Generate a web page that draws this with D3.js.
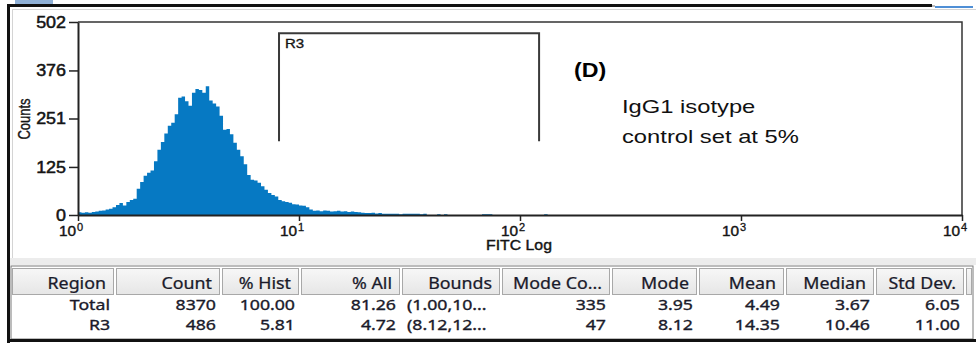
<!DOCTYPE html>
<html>
<head>
<meta charset="utf-8">
<script src="https://cdn.jsdelivr.net/npm/d3@7"></script>
<style>
  html, body { margin: 0; padding: 0; background: #fff; }
  svg { display: block; }
</style>
</head>
<body>
<svg id="chart" width="976" height="343"></svg>
<script>
// FITC log histogram, 64 channels per decade starting at 10^0
const channelsPerDecade = 64;
const channelCounts = [
  7, 6, 7, 6, 8, 9, 11, 12, 14, 16,
  20, 26, 31, 25, 34, 39, 42, 68, 86, 102,
  110, 116, 140, 170, 190, 212, 232, 240, 262, 305,
  308, 296, 284, 318, 328, 325, 318, 335, 298, 290,
  282, 258, 222, 224, 210, 188, 170, 153, 132, 104,
  92, 90, 84, 75, 66, 57, 52, 48, 39, 36,
  34, 32, 28, 27, 25, 24, 20, 14, 11, 12,
  10, 12, 11, 9, 10, 11, 9, 10, 8, 9,
  8, 7, 6, 5, 5, 6, 4, 5, 3, 3,
  3, 3, 3, 2, 3, 3, 3, 3, 3, 2,
  3, 0, 0, 0, 2, 0, 2, 0, 0, 0,
  0, 0, 0, 0, 0, 0, 0, 2, 2, 2,
  0, 0, 0, 0, 0, 0, 0, 0, 0, 0,
  0, 0, 0, 0, 0, 2
];

const xDomain = [1, 10000];
const xTickValues = [1, 10, 100, 1000, 10000];
const xTickExponents = ["0", "1", "2", "3", "4"];
const yDomain = [0, 502];
const yTickValues = [0, 125, 251, 376, 502];

// Gate R3
const gateName = "R3";
const gateBounds = [8.12, 122];

// Statistics table
const columnNames = ["Region", "Count", "% Hist", "% All", "Bounds", "Mode Co...", "Mode", "Mean", "Median", "Std Dev."];
const regionNames = ["Total", "R3"];
const regionCounts = ["8370", "486"];
const pctHist = ["100.00", "5.81"];
const pctAll = ["81.26", "4.72"];
const regionBounds = ["(1.00,10...", "(8.12,12..."];
const modeCounts = ["335", "47"];
const modeValues = ["3.95", "8.12"];
const meanValues = ["4.49", "14.35"];
const medianValues = ["3.67", "10.46"];
const stdDevValues = ["6.05", "11.00"];

// ---- layout ----
const W = 976, H = 343;
const plot = { left: 78, right: 962, top: 22, bottom: 215 };
const gateTopCount = 473, gateFloorCount = 192;
const colEdges = [11, 115, 221, 300, 401, 501, 611, 698, 785, 875, 965, 973];
const headerTop = 268, headerBottom = 294;
const rowBaselines = [309.5, 329.5];

const chartFont = "'Liberation Sans', Arial, sans-serif";
const tableFont = "'Noto Sans', 'DejaVu Sans', sans-serif";
const ink = "#141414";
const fillBlue = "#0679c3";

const svg = d3.select("#chart");

function label(parent, o) {
  const t = parent.append("text")
    .attr("transform", `translate(${o.x},${o.y}) scale(${o.sx || 1},${o.sy || 1})`)
    .attr("text-anchor", o.anchor || "start")
    .attr("font-family", o.family || chartFont)
    .attr("font-size", o.size)
    .attr("font-weight", o.weight || "normal")
    .attr("fill", o.fill || ink)
    .text(o.text);
  if (o.dy) t.attr("dy", o.dy);
  if (o.heavy) t.attr("stroke", o.fill || ink).attr("stroke-width", o.heavy);
  return t;
}

// ---- window frame ----
svg.append("rect").attr("x", 0).attr("y", 0).attr("width", W).attr("height", H).attr("fill", "#fff");
svg.append("rect").attr("x", 15).attr("y", 0).attr("width", 38).attr("height", 4).attr("fill", "#8fb0d6");
svg.append("rect").attr("x", 7).attr("y", 4).attr("width", 925).attr("height", 3).attr("fill", "#111");
svg.append("rect").attr("x", 932).attr("y", 5).attr("width", 3).attr("height", 2).attr("fill", "#bbb");
svg.append("rect").attr("x", 935).attr("y", 6).attr("width", 38).attr("height", 2).attr("fill", "#4f8fd6");
svg.append("line").attr("x1", 12).attr("x2", W).attr("y1", 9.5).attr("y2", 9.5).attr("stroke", "#d4d4d4");
svg.append("line").attr("x1", 12.5).attr("x2", 12.5).attr("y1", 9).attr("y2", 258).attr("stroke", "#d4d4d4");
svg.append("rect").attr("x", 7).attr("y", 4).attr("width", 3).attr("height", H - 4).attr("fill", "#111");
svg.append("rect").attr("x", 10).attr("y", 258).attr("width", W - 10).attr("height", 7).attr("fill", "#ececec");

// ---- scales ----
const x = d3.scaleLog().domain(xDomain).range([plot.left, plot.right]);
const y = d3.scaleLinear().domain(yDomain).range([plot.bottom, plot.top]);

// ---- histogram ----
const bins = channelCounts.map((c, i) => ({ lo: Math.pow(10, i / channelsPerDecade), v: c }));
bins.push({ lo: Math.pow(10, channelCounts.length / channelsPerDecade), v: 0 });
const area = d3.area()
  .x(d => x(d.lo))
  .y0(y(0))
  .y1(d => y(d.v))
  .curve(d3.curveStepAfter);
svg.append("path").datum(bins).attr("d", area).attr("fill", fillBlue);

// ---- plot frame ----
svg.append("path")
  .attr("d", `M${plot.left},${plot.top}H${plot.right}V${plot.bottom}`)
  .attr("fill", "none").attr("stroke", "#333").attr("stroke-width", 1.5);

// ---- axes ----
const yAxis = svg.append("g").attr("transform", `translate(${plot.left},0)`)
  .call(d3.axisLeft(y).tickValues(yTickValues).tickSize(9).tickSizeOuter(0).tickFormat(""));
const xAxis = svg.append("g").attr("transform", `translate(0,${plot.bottom})`)
  .call(d3.axisBottom(x).tickValues(xTickValues).tickSize(6).tickSizeOuter(0).tickFormat(""));
[yAxis, xAxis].forEach(a => {
  a.select(".domain").attr("stroke", "#222").attr("stroke-width", 2);
  a.selectAll(".tick line").attr("stroke", "#222").attr("stroke-width", 1.5);
});

yTickValues.forEach(v => {
  label(svg, { x: 66, y: y(v), text: String(v), size: 16, sx: 1.12, anchor: "end", dy: "0.36em", heavy: 0.5 });
});
xTickValues.forEach((v, i) => {
  label(svg, { x: x(v) - 2, y: 235.5, text: "10", size: 14, sx: 1.1, anchor: "end", heavy: 0.4 });
  label(svg, { x: x(v) - 1, y: 231, text: xTickExponents[i], size: 10, sx: 1.1, heavy: 0.3 });
});
label(svg, { x: 519, y: 250, text: "FITC Log", size: 14, sx: 1.13, anchor: "middle", heavy: 0.4 });
svg.append("text")
  .attr("transform", "translate(30,119) rotate(-90) scale(1,1.25)")
  .attr("text-anchor", "middle")
  .attr("font-family", chartFont).attr("font-size", 13).attr("fill", ink)
  .attr("stroke", ink).attr("stroke-width", 0.3)
  .text("Counts");

// ---- gate R3 ----
svg.append("path")
  .attr("d", `M${x(gateBounds[0])},${y(gateFloorCount)}V${y(gateTopCount)}H${x(gateBounds[1])}V${y(gateFloorCount)}`)
  .attr("fill", "none").attr("stroke", "#3a3a3a").attr("stroke-width", 2);
label(svg, { x: x(gateBounds[0]) + 6, y: 48, text: gateName, size: 12, sx: 1.25, heavy: 0.3 });

// ---- annotations ----
label(svg, { x: 574, y: 77, text: "(D)", size: 20, weight: "bold", sx: 1.16, fill: "#000" });
label(svg, { x: 622, y: 113, text: "IgG1 isotype", size: 19, sx: 1.25, fill: "#111" });
label(svg, { x: 622, y: 143, text: "control set at 5%", size: 19, sx: 1.25, fill: "#111" });

// ---- statistics table ----
const table = svg.append("g");
const grad = svg.append("defs").append("linearGradient").attr("id", "hdr").attr("x1", 0).attr("x2", 0).attr("y1", 0).attr("y2", 1);
grad.append("stop").attr("offset", "0%").attr("stop-color", "#f7f7f7");
grad.append("stop").attr("offset", "100%").attr("stop-color", "#e6e6e6");

table.append("rect").attr("x", colEdges[0]).attr("y", headerTop - 2)
  .attr("width", colEdges[colEdges.length - 1] - colEdges[0]).attr("height", 339 - headerTop + 2)
  .attr("fill", "#fff").attr("stroke", "#7a7a7a").attr("stroke-width", 1);

for (let i = 0; i < colEdges.length - 1; i++) {
  table.append("rect")
    .attr("x", colEdges[i] + 1.5).attr("y", headerTop + 0.5)
    .attr("width", colEdges[i + 1] - colEdges[i] - 3).attr("height", headerBottom - headerTop)
    .attr("fill", "url(#hdr)").attr("stroke", "#a8a8a8").attr("stroke-width", 1);
}
columnNames.forEach((name, i) => {
  label(table, { x: colEdges[i + 1] - 9, y: 289, text: name, size: 15.5, sx: 1.15, anchor: "end", family: tableFont, fill: "#1a1a2a", heavy: 0.25 });
});

const rowColumns = [regionNames, regionCounts, pctHist, pctAll, regionBounds, modeCounts, modeValues, meanValues, medianValues, stdDevValues];
regionNames.forEach((_, r) => {
  rowColumns.forEach((col, c) => {
    const isBounds = c === 4;
    label(table, {
      x: isBounds ? colEdges[c] + 6 : colEdges[c + 1] - 5,
      y: rowBaselines[r],
      text: col[r], size: 15, sx: 1.18,
      anchor: isBounds ? "start" : "end",
      family: tableFont, fill: "#1a1a2a", heavy: 0.35
    });
  });
});

svg.append("rect").attr("x", 7).attr("y", 339).attr("width", W - 7).attr("height", 3).attr("fill", "#111");
</script>
</body>
</html>
